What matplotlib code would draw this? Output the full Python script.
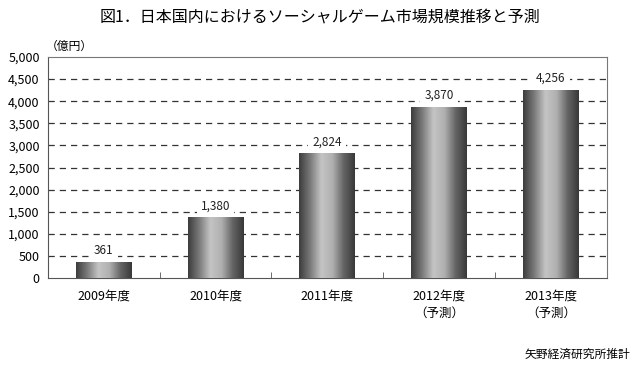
import numpy as np
import matplotlib
matplotlib.use("Agg")
from matplotlib import pyplot as plt
from matplotlib.colors import LinearSegmentedColormap

plt.rcParams['font.family'] = ['Noto Sans CJK JP', 'DejaVu Sans']

# データ
years = ["2009年度", "2010年度", "2011年度", "2012年度\n（予測）", "2013年度\n（予測）"]
values = [361, 1380, 2824, 3870, 4256]
yticks = [0, 500, 1000, 1500, 2000, 2500, 3000, 3500, 4000, 4500, 5000]

fig = plt.figure(figsize=(6.4, 3.65), dpi=100)
ax = fig.add_axes([0.075, 0.238, 0.873, 0.606])

x = np.arange(len(values))
bars = ax.bar(x, values, width=0.5, color="none", edgecolor="none", zorder=3)

# 円柱っぽいグラデーション
cmap = LinearSegmentedColormap.from_list(
    "cyl", ["#3c3c3c", "#7a7a7a", "#c4c4c4", "#b0b0b0", "#646464", "#383838"])
grad = np.linspace(0, 1, 256).reshape(1, -1)
for b in bars:
    x0, y0 = b.get_x(), b.get_y()
    w, h = b.get_width(), b.get_height()
    im = ax.imshow(grad, cmap=cmap, aspect="auto", extent=[x0, x0 + w, y0, y0 + h],
                   zorder=3, interpolation="bilinear")
    im.set_clip_path(b)
    ax.text(x0 + w / 2, h + 110, f"{int(h):,}", ha="center", va="bottom",
            fontsize=8.5, color="#222222", zorder=4,
            bbox=dict(boxstyle="square,pad=0.35", fc="white", ec="none"))

ax.set_xlim(-0.5, len(values) - 0.5)
ax.set_ylim(0, 5000)
ax.set_yticks(yticks)
ax.set_yticklabels([f"{v:,}" for v in yticks], fontsize=9)
ax.set_xticks(x)
ax.set_xticklabels(years, fontsize=9, linespacing=1.5)
ax.set_xticks(np.arange(len(values) - 1) + 0.5, minor=True)
ax.tick_params(axis="x", which="major", length=0, pad=8)
ax.tick_params(axis="x", which="minor", length=4, direction="in", color="#555555")
ax.tick_params(axis="y", length=0, pad=6)

for v in yticks[1:-1]:
    ax.axhline(v, color="#333333", lw=0.9, ls=(0, (5, 4)), zorder=1)

for s in ax.spines.values():
    s.set_color("#777777")
    s.set_linewidth(0.8)
ax.spines["left"].set_color("#555555")
ax.spines["bottom"].set_color("#555555")

fig.text(0.5, 0.952, "図1．日本国内におけるソーシャルゲーム市場規模推移と予測",
         ha="center", va="center", fontsize=11.5)
fig.text(0.072, 0.872, "（億円）", ha="left", va="center", fontsize=8.5)
fig.text(0.985, 0.03, "矢野経済研究所推計", ha="right", va="center", fontsize=8.5)

fig.savefig("out.png", dpi=100, facecolor="white")
